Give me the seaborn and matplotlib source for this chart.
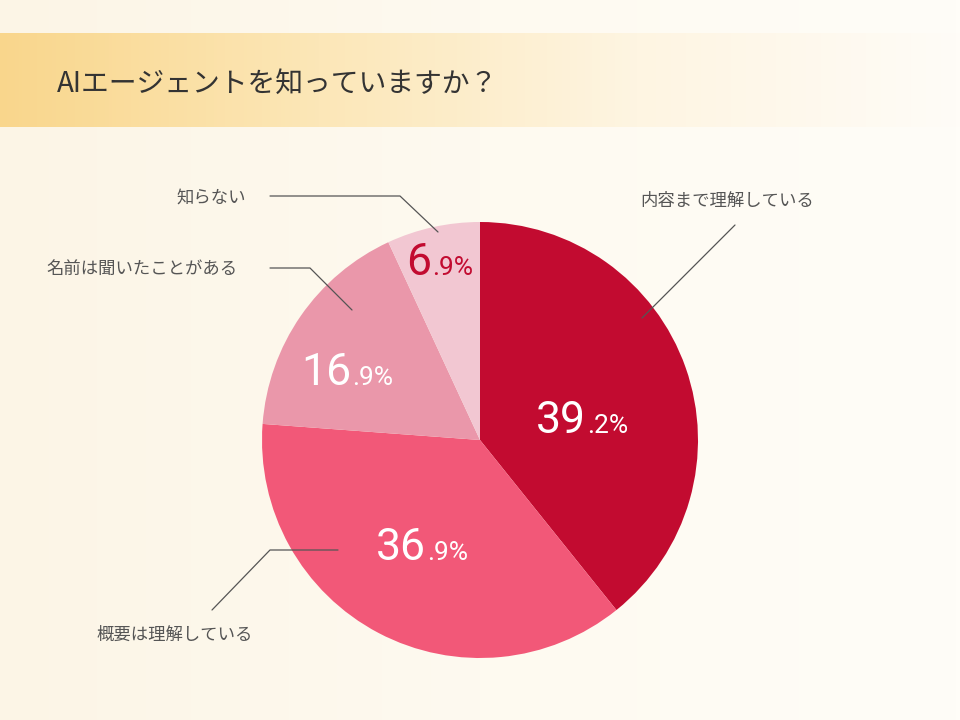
import numpy as np
import seaborn as sns
import matplotlib.pyplot as plt
from matplotlib.colors import LinearSegmentedColormap

# data
categories = ['内容まで理解している', '概要は理解している', '名前は聞いたことがある', '知らない']
values = [39.2, 36.9, 16.9, 6.9]
slice_colors = ['#C20B30', '#F25878', '#EA97AA', '#F2C7D2']
label_colors = ['white', 'white', 'white', '#C20B30']
title = 'AIエージェントを知っていますか？'

sns.set_theme(style='white')
plt.rcParams['font.family'] = ['Noto Sans CJK JP', 'DejaVu Sans']

fig = plt.figure(figsize=(9.6, 7.2), dpi=100)

# background + header band
bg = fig.add_axes([0, 0, 1, 1])
bg.set_xlim(0, 960)
bg.set_ylim(720, 0)
bg.axis('off')
bg_cmap = LinearSegmentedColormap.from_list('bg', ['#FCF5E6', '#FEFAF0', '#FFFDF8'])
bg.imshow(np.linspace(0, 1, 256)[None, :], cmap=bg_cmap, aspect='auto',
          extent=(0, 960, 720, 0), zorder=0)
hd_cmap = LinearSegmentedColormap.from_list('hd', ['#F9D68C', '#FCE7B8', '#FEF5E2', '#FFFCF7'])
bg.imshow(np.linspace(0, 1, 256)[None, :], cmap=hd_cmap, aspect='auto',
          extent=(0, 960, 127, 33), zorder=1)
bg.text(57, 84, title, fontsize=20, color='#333333', va='center', ha='left', zorder=2)

# pie
ax = fig.add_axes([262 / 960, 62 / 720, 436 / 960, 436 / 720])
ax.pie(values, colors=sns.color_palette(slice_colors), startangle=90,
       counterclock=False, wedgeprops=dict(linewidth=0), radius=1)
ax.set_xlim(-1, 1)
ax.set_ylim(-1, 1)
ax.set_aspect('equal')

# overlay for labels and leader lines
ov = fig.add_axes([0, 0, 1, 1])
ov.set_xlim(0, 960)
ov.set_ylim(720, 0)
ov.axis('off')
ov.patch.set_alpha(0)

num_font = ['Roboto', 'DejaVu Sans']

# percentage labels: (split x, baseline y)
pct_pos = [(586, 433), (426, 560), (351, 385), (431, 275)]
for v, (x, y), c in zip(values, pct_pos, label_colors):
    whole, dec = f'{v:.1f}'.split('.')
    ov.text(x, y, whole, fontsize=32, color=c, ha='right', va='baseline', family=num_font)
    ov.text(x + 1, y, f'.{dec}%', fontsize=19, color=c, ha='left', va='baseline', family=num_font)

# category labels
lab_pos = [(640, 201, 'left'), (96, 635, 'left'), (238, 269, 'right'), (246, 198, 'right')]
for name, (x, y, ha) in zip(categories, lab_pos):
    ov.text(x, y, name, fontsize=12.5, color='#555555', ha=ha, va='center')

# leader lines
leaders = [
    [(735, 225), (642, 318)],
    [(212, 610), (270, 550), (338, 550)],
    [(270, 268), (310, 268), (352, 310)],
    [(270, 196), (400, 196), (438, 232)],
]
for pts in leaders:
    xs, ys = zip(*pts)
    ov.plot(xs, ys, color='#555555', lw=0.9)

fig.savefig('out.png', dpi=100)
